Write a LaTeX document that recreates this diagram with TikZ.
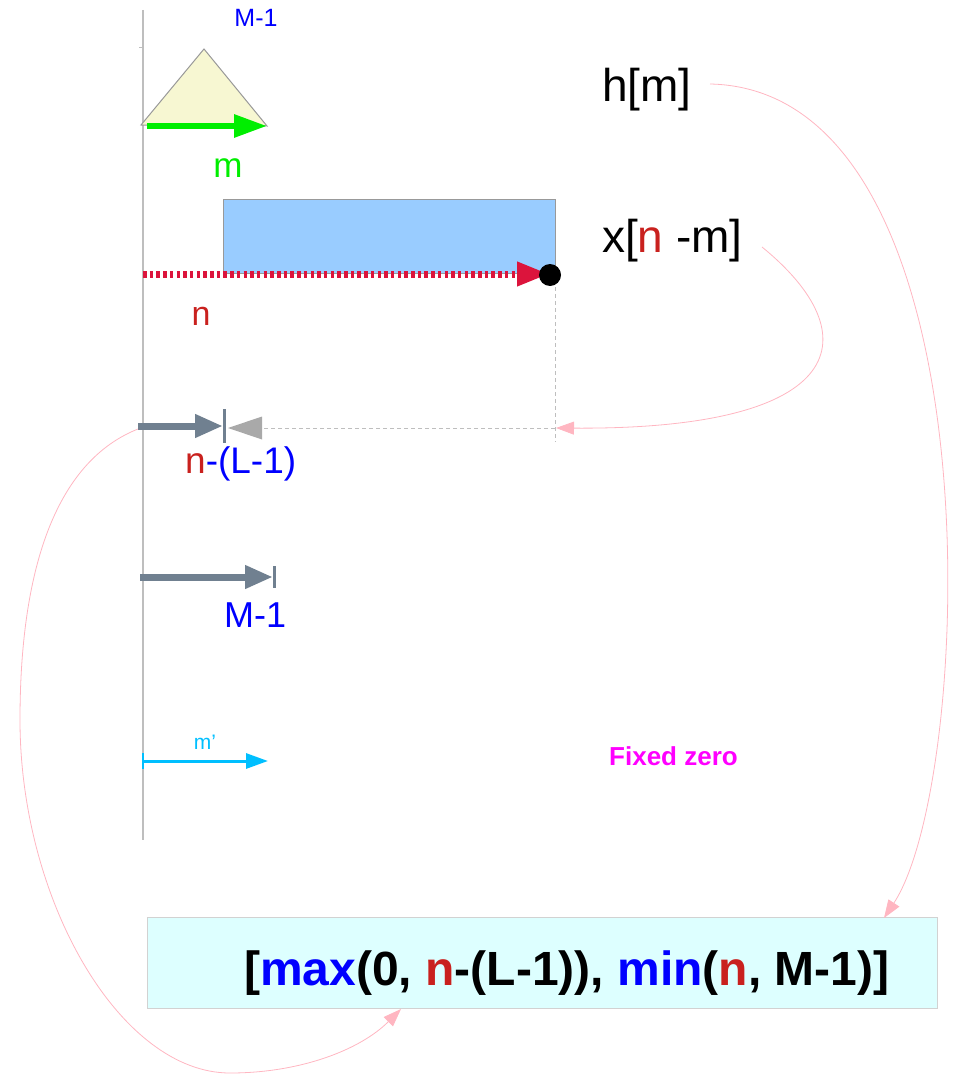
\documentclass[tikz,border=0pt]{standalone}
\usepackage{fontspec}
\setmainfont{Liberation Sans}
\usetikzlibrary{arrows.meta}
\definecolor{nred}{HTML}{C9211E}
\definecolor{nblue}{HTML}{0000FF}
\definecolor{ngreen}{HTML}{00EE00}
\definecolor{slate}{HTML}{708090}
\definecolor{skyb}{HTML}{00BFFF}
\definecolor{pinkc}{HTML}{FFB6C1}
\definecolor{axisg}{HTML}{BEBEBE}
\definecolor{trifill}{HTML}{F7F7D2}
\definecolor{rectfill}{HTML}{99CCFF}
\definecolor{boxfill}{HTML}{DDFFFF}
\definecolor{crim}{HTML}{DC143C}
\definecolor{headg}{HTML}{A9A9A9}
\definecolor{mag}{HTML}{FF00FF}
\begin{document}
\begin{tikzpicture}[x=1pt,y=-1pt,
  lbl/.style={inner sep=0pt, anchor=base west},
  lblc/.style={inner sep=0pt, anchor=base},
  pinkarrow/.style={draw=pinkc, line width=0.8pt, -{Triangle[length=18pt,width=13pt,fill=pinkc]}},
  slatearrow/.style={draw=slate, line width=7pt, -{Triangle[length=28pt,width=22pt]}},
  slatebar/.style={draw=slate, line width=3pt},
  dashg/.style={draw=axisg, line width=1pt, dash pattern=on 4pt off 3pt}]
\useasboundingbox (0,0) rectangle (954,1075);

% axis
\draw[axisg, line width=1.5pt] (143,10) coordinate (ax1) -- (143,840) coordinate (ax2);
\draw[axisg, line width=1pt] (139,48) -- (143,48);

% triangle and green arrow
\draw[fill=trifill, draw=gray!80, line width=1pt] (141,125) coordinate (t1) -- (204,49) coordinate (t2) -- (267,126) coordinate (t3) -- cycle;
\coordinate (g1) at (147,126);
\coordinate (g2) at (267,126);
\draw[ngreen, line width=6pt, -{Triangle[length=33pt,width=22pt]}] (g1) -- (g2);
\node[lblc, text=nblue, font=\fontsize{25}{28}\selectfont] (mtop) at (256,27) {M-1};
\node[lblc, text=ngreen, font=\fontsize{35}{38}\selectfont] (mlab) at (228,178) {m};

% blue rectangle
\draw[fill=rectfill, draw=gray!80, line width=1pt] (223,200) rectangle (555,273);
% red dotted arrow
\coordinate (r1) at (143,274);
\coordinate (r2) at (549,274);
\draw[crim, line width=7pt, dash pattern=on 3.5pt off 3.2pt, -{Triangle[length=32pt,width=23pt]}] (r1) -- (r2);
\node[circle, fill=black, minimum size=22pt, inner sep=0pt] (dot) at (550,275) {};
\node[lblc, text=nred, font=\fontsize{34}{38}\selectfont] (nlab) at (201,325) {n};

% dashed guides
\coordinate (dv1) at (555,287);
\coordinate (dv2) at (555,442);
\draw[dashg] (dv1) -- (dv2);
\coordinate (dh1) at (555,428);
\coordinate (dh2) at (228,428);
\draw[dashg] (dh1) -- (262,428);
\draw[fill=headg, draw=none] (dh2) -- (262,416.5) -- (262,439.5) -- cycle;

% slate arrow 1
\coordinate (s1a) at (138,426);
\coordinate (s1b) at (223,426);
\draw[slatearrow] (s1a) -- (s1b);
\draw[slatebar] (224,409) -- (224,443);
\node[lbl, font=\fontsize{37}{40}\selectfont] (nl) at (185,473) {\textcolor{nred}{n}\textcolor{nblue}{-(L-1)}};

% slate arrow 2
\coordinate (s2a) at (140,577);
\coordinate (s2b) at (273,577);
\draw[slatearrow] (s2a) -- (s2b);
\draw[slatebar] (274,566) -- (274,588);
\node[lbl, text=nblue, font=\fontsize{36}{40}\selectfont] (mlow) at (224,627) {M-1};

% cyan arrow
\coordinate (c1) at (143,761);
\coordinate (c2) at (268,761);
\draw[skyb, line width=3pt, -{Triangle[length=22pt,width=15pt]}] (c1) -- (c2);
\draw[skyb, line width=2pt] (143,753) -- (143,769);
\node[lblc, text=skyb, font=\fontsize{21}{24}\selectfont] (mp) at (205,749) {m’};

\node[lbl, text=mag, font=\fontsize{26}{30}\selectfont\bfseries] (fz) at (609,765) {Fixed zero};

% labels right
\node[lbl, font=\fontsize{46}{50}\selectfont] (hm) at (602,102) {h[m]};
\node[lbl, font=\fontsize{46}{50}\selectfont] (xnm) at (602,252) {x[\textcolor{nred}{n} -m]};

% formula box
\node[draw=gray!35, fill=boxfill, line width=1pt, minimum width=790pt, minimum height=91pt, inner sep=0pt, anchor=north west] (fbox) at (147,917) {};
\node[lbl, font=\fontsize{48}{52}\selectfont\bfseries] (formula) at (244,985)
  {[\textcolor{nblue}{max}(0, \textcolor{nred}{n}-(L-1)), \textcolor{nblue}{min}(\textcolor{nred}{n}, M-1)]};

% pink curves
\coordinate (hs) at (710,84);
\coordinate (he) at (884,918);
\draw[pinkarrow] (hs) .. controls (1000,90) and (975,780) .. (he);
\coordinate (xs) at (762,247);
\coordinate (xe) at (556,428);
\draw[pinkarrow] (xs) .. controls (870,335) and (850,430) .. (xe);
\coordinate (ls) at (138,429);
\coordinate (lm1) at (20,720);
\coordinate (lm2) at (230,1073);
\coordinate (le) at (401,1009);
\draw[pinkarrow] (ls) .. controls (60,460) and (20,560) .. (lm1)
  .. controls (20,900) and (120,1073) .. (lm2)
  .. controls (300,1073) and (360,1050) .. (le);
\end{tikzpicture}
\end{document}
